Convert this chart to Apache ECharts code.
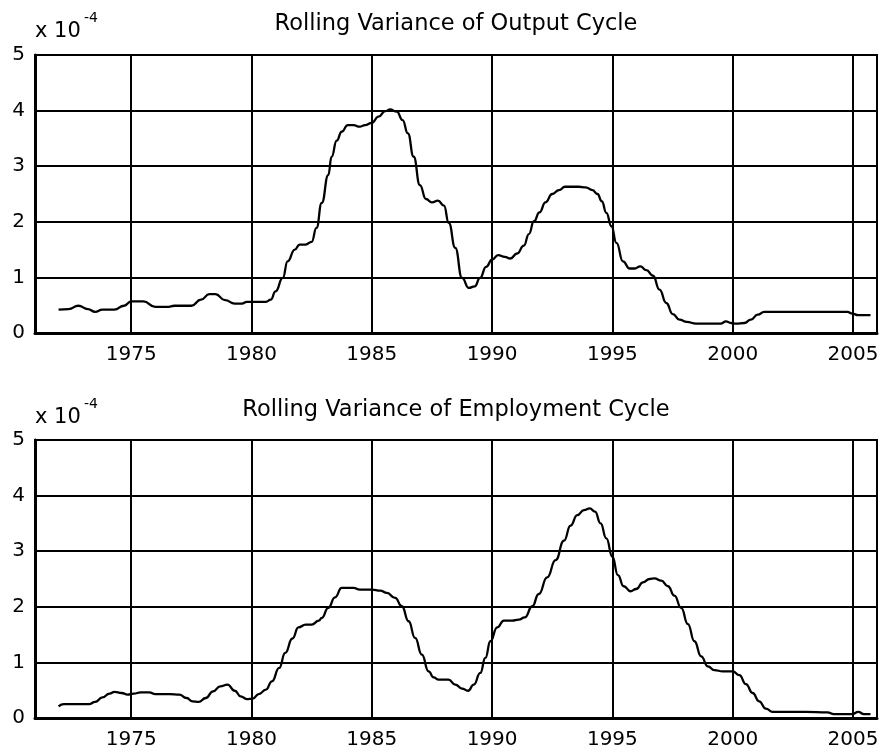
<!DOCTYPE html>
<html>
<head>
<meta charset="utf-8">
<script src="https://cdn.jsdelivr.net/npm/echarts@6/dist/echarts.min.js"></script>
<style>
  html, body { margin: 0; padding: 0; background: #fff; }
  #chart { width: 884px; height: 752px; }
</style>
</head>
<body>
<div id="chart"></div>
<script>
// rolling variance, units of 1e-4
const outYears = [1971.98, 1972.4, 1972.8, 1973.2, 1973.5, 1973.8, 1974.3, 1974.7, 1975.0, 1975.5,
  1976.0, 1976.5, 1976.8, 1977.5, 1977.9, 1978.25, 1978.5, 1978.9, 1979.3, 1979.6,
  1979.8, 1980.6, 1980.8, 1981.0, 1981.3, 1981.5, 1981.8, 1982.0, 1982.25, 1982.5,
  1982.7, 1982.92, 1983.19, 1983.33, 1983.54, 1983.75, 1984.0, 1984.24, 1984.5, 1984.72,
  1985.0, 1985.28, 1985.56, 1985.76, 1986.04, 1986.28, 1986.5, 1986.74, 1987.0, 1987.25,
  1987.5, 1987.75, 1988.0, 1988.2, 1988.47, 1988.75, 1989.03, 1989.28, 1989.5, 1989.75,
  1990.0, 1990.25, 1990.53, 1990.76, 1991.04, 1991.32, 1991.53, 1991.74, 1991.97, 1992.22,
  1992.5, 1992.78, 1993.03, 1993.61, 1993.89, 1994.17, 1994.38, 1994.56, 1994.75, 1994.96,
  1995.17, 1995.44, 1995.72, 1995.93, 1996.16, 1996.41, 1996.69, 1996.96, 1997.24, 1997.51,
  1997.79, 1998.09, 1998.48, 1999.03, 1999.52, 1999.72, 1999.93, 2000.14, 2000.48, 2000.76,
  2001.04, 2001.31, 2001.66, 2002.76, 2003.87, 2004.77, 2004.97, 2005.22, 2005.73];
const outVals = [0.42, 0.43, 0.49, 0.43, 0.38, 0.42, 0.42, 0.49, 0.57, 0.57,
  0.47, 0.47, 0.49, 0.49, 0.60, 0.70, 0.70, 0.59, 0.53, 0.53,
  0.56, 0.56, 0.60, 0.75, 0.99, 1.29, 1.50, 1.59, 1.59, 1.64,
  1.89, 2.34, 2.84, 3.17, 3.46, 3.62, 3.74, 3.74, 3.71, 3.74,
  3.78, 3.89, 3.99, 4.02, 3.98, 3.83, 3.59, 3.17, 2.66, 2.41,
  2.35, 2.38, 2.29, 1.98, 1.53, 0.99, 0.81, 0.84, 0.99, 1.19,
  1.32, 1.40, 1.37, 1.34, 1.43, 1.57, 1.78, 2.01, 2.17, 2.35,
  2.50, 2.57, 2.63, 2.63, 2.62, 2.57, 2.50, 2.37, 2.16, 1.92,
  1.62, 1.29, 1.16, 1.16, 1.20, 1.13, 1.03, 0.78, 0.54, 0.34,
  0.24, 0.20, 0.17, 0.17, 0.17, 0.21, 0.18, 0.17, 0.18, 0.24,
  0.33, 0.38, 0.38, 0.38, 0.38, 0.38, 0.35, 0.32, 0.32];

const empYears = [1971.98, 1972.2, 1972.7, 1973.25, 1973.5, 1973.8, 1974.1, 1974.3, 1974.6, 1974.85,
  1975.1, 1975.4, 1975.75, 1976.0, 1976.6, 1977.0, 1977.3, 1977.55, 1977.8, 1978.1,
  1978.4, 1978.7, 1979.0, 1979.3, 1979.55, 1979.8, 1980.05, 1980.3, 1980.6, 1980.85,
  1981.15, 1981.4, 1981.7, 1981.95, 1982.25, 1982.5, 1982.8, 1982.92, 1983.19, 1983.47,
  1983.75, 1984.24, 1984.5, 1985.0, 1985.35, 1985.63, 1985.97, 1986.25, 1986.53, 1986.8,
  1987.08, 1987.36, 1987.57, 1987.78, 1988.19, 1988.47, 1988.75, 1989.0, 1989.24, 1989.51,
  1989.72, 1989.93, 1990.21, 1990.49, 1990.83, 1991.11, 1991.36, 1991.67, 1991.94, 1992.29,
  1992.64, 1992.99, 1993.26, 1993.54, 1993.82, 1994.06, 1994.28, 1994.51, 1994.75, 1995.0,
  1995.23, 1995.47, 1995.75, 1995.99, 1996.27, 1996.55, 1996.75, 1997.03, 1997.31, 1997.58,
  1997.86, 1998.14, 1998.41, 1998.69, 1998.97, 1999.24, 1999.59, 2000.0, 2000.28, 2000.55,
  2000.83, 2001.1, 2001.38, 2001.66, 2002.21, 2003.04, 2003.94, 2004.21, 2004.97, 2005.22,
  2005.46, 2005.73];
const empVals = [0.21, 0.25, 0.25, 0.25, 0.29, 0.37, 0.44, 0.47, 0.45, 0.42,
  0.44, 0.46, 0.46, 0.43, 0.43, 0.42, 0.36, 0.30, 0.29, 0.36,
  0.48, 0.57, 0.60, 0.49, 0.39, 0.34, 0.35, 0.43, 0.51, 0.66,
  0.90, 1.17, 1.43, 1.63, 1.68, 1.68, 1.75, 1.80, 1.98, 2.17,
  2.34, 2.34, 2.31, 2.31, 2.29, 2.25, 2.16, 2.01, 1.74, 1.44,
  1.14, 0.84, 0.73, 0.69, 0.69, 0.60, 0.53, 0.49, 0.60, 0.81,
  1.08, 1.38, 1.63, 1.75, 1.75, 1.77, 1.81, 2.01, 2.23, 2.53,
  2.84, 3.19, 3.46, 3.65, 3.74, 3.77, 3.71, 3.50, 3.23, 2.90,
  2.57, 2.37, 2.28, 2.32, 2.44, 2.50, 2.51, 2.47, 2.37, 2.20,
  1.98, 1.69, 1.38, 1.11, 0.93, 0.86, 0.84, 0.84, 0.77, 0.61,
  0.45, 0.30, 0.17, 0.11, 0.11, 0.11, 0.10, 0.07, 0.07, 0.11,
  0.07, 0.07];

const xTicks = [1975, 1980, 1985, 1990, 1995, 2000, 2005];
const yTicks = [0, 1, 2, 3, 4, 5];
const titles = ['Rolling Variance of Output Cycle', 'Rolling Variance of Employment Cycle'];

const font = 'DejaVu Sans';
const chart = echarts.init(document.getElementById('chart'));

const grids = [
  { left: 35, right: 7, top: 55, height: 278 },
  { left: 35, right: 7, top: 440, height: 278 }
];

function xAxis(i) {
  return {
    type: 'value', gridIndex: i, min: 1971, max: 2006,
    axisLine: { show: true, onZero: false, lineStyle: { color: '#000', width: 3 } },
    axisTick: { show: true, inside: true, length: 5, customValues: xTicks, lineStyle: { color: '#000', width: 2 } },
    axisLabel: { customValues: xTicks, formatter: v => String(v), color: '#000', fontFamily: font, fontSize: 20, margin: 12 },
    splitLine: { show: true, lineStyle: { color: '#000', width: 2 } }
  };
}
function yAxis(i) {
  return {
    type: 'value', gridIndex: i, min: yTicks[0], max: yTicks[yTicks.length - 1], interval: 1,
    axisLine: { show: true, lineStyle: { color: '#000', width: 3 } },
    axisTick: { show: true, inside: true, length: 5, lineStyle: { color: '#000', width: 2 } },
    axisLabel: { color: '#000', fontFamily: font, fontSize: 20, margin: 10 },
    splitLine: { show: true, lineStyle: { color: '#000', width: 2 } }
  };
}

const txt = (x, y, s, size, align) => ({
  type: 'text', x: x, y: y,
  style: { text: s, fill: '#000', font: size + 'px "' + font + '"', align: align || 'left', verticalAlign: 'middle' }
});

chart.setOption({
  animation: false,
  backgroundColor: '#fff',
  grid: grids.map(g => Object.assign({ show: true, borderColor: '#000', borderWidth: 2 }, g)),
  xAxis: [xAxis(0), xAxis(1)],
  yAxis: [yAxis(0), yAxis(1)],
  graphic: [
    txt(456, 24, titles[0], 22.5, 'center'),
    txt(35, 32, 'x 10', 21),
    txt(84, 18, '-4', 14),
    txt(456, 410, titles[1], 22.5, 'center'),
    txt(35, 418, 'x 10', 21),
    txt(84, 404, '-4', 14)
  ],
  series: [
    {
      type: 'line', xAxisIndex: 0, yAxisIndex: 0, showSymbol: false,
      smooth: 0.5, smoothMonotone: 'x',
      lineStyle: { color: '#000', width: 2.3 },
      data: outYears.map((y, k) => [y, outVals[k]])
    },
    {
      type: 'line', xAxisIndex: 1, yAxisIndex: 1, showSymbol: false,
      smooth: 0.5, smoothMonotone: 'x',
      lineStyle: { color: '#000', width: 2.3 },
      data: empYears.map((y, k) => [y, empVals[k]])
    }
  ]
});

window.addEventListener('resize', function () {
  chart.resize();
});
</script>
</body>
</html>
